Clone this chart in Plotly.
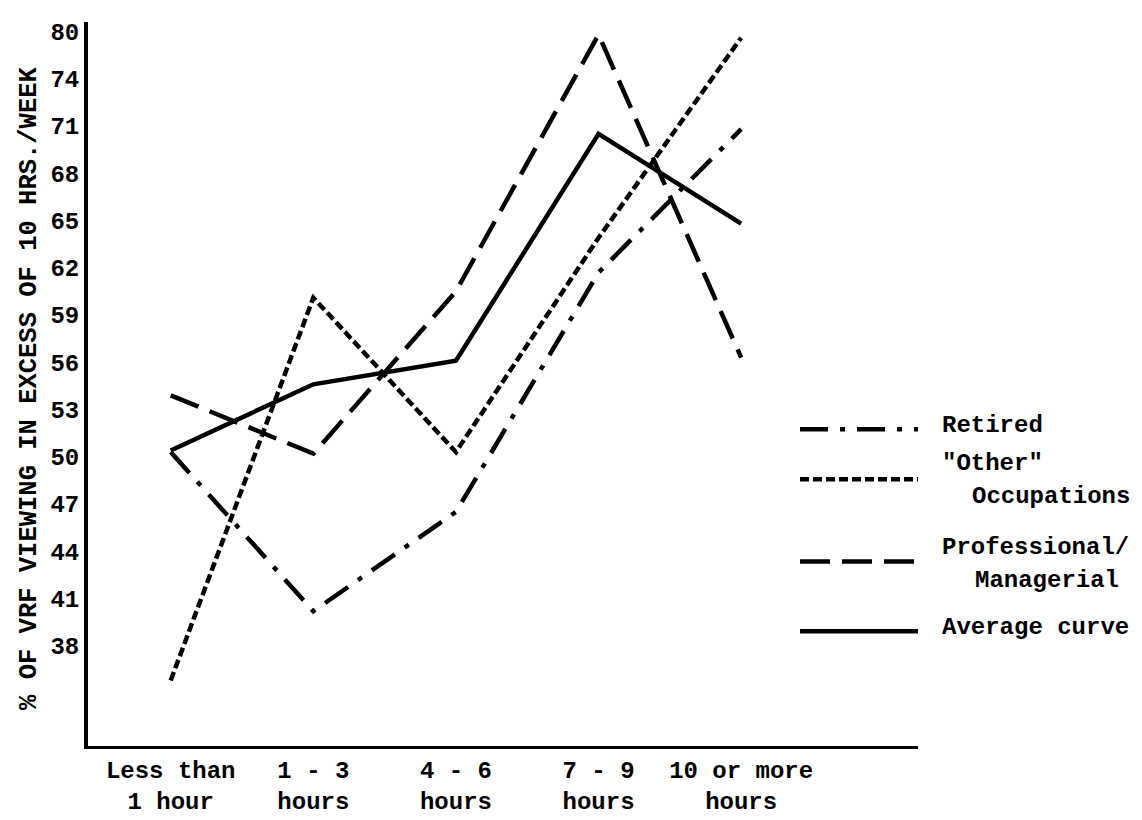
import plotly.graph_objects as go

categories = ["Less than<br>1 hour", "1 - 3<br>hours", "4 - 6<br>hours", "7 - 9<br>hours", "10 or more<br>hours"]

retired = [50.3, 40.2, 46.5, 61.7, 70.8]
other_occupations = [35.8, 60.1, 50.3, 63.9, 76.6]
professional = [53.9, 50.2, 60.5, 76.8, 56.3]
average = [50.4, 54.6, 56.1, 70.5, 64.8]

y_tick_vals = [38, 41, 44, 47, 50, 53, 56, 59, 62, 65, 68, 71, 74, 77]
y_tick_text = ["38", "41", "44", "47", "50", "53", "56", "59", "62", "65", "68", "71", "74", "80"]

series = [
    ("Retired", retired, "28px,12px,5px,12px"),
    ('"Other" Occupations', other_occupations, "9px,4px"),
    ("Professional/ Managerial", professional, "30px,12px"),
    ("Average curve", average, "solid"),
]

FONT = "Liberation Mono"
W, H = 1142, 820
L, R, T, B = 80, 232, 12, 70
pw, ph = W - L - R, H - T - B

fig = go.Figure()
for name, vals, dash in series:
    fig.add_trace(go.Scatter(
        x=categories, y=vals, mode="lines", name=name,
        line=dict(color="black", width=4.5, dash=dash),
        showlegend=False,
    ))

def px_x(x):
    return (x - L) / pw

def px_y(y):
    return (H - B - y) / ph

# legend drawn manually
legend_items = [
    (427, "28px,12px,5px,12px", [("Retired", 932, 423)]),
    (478, "9px,4px", [('"Other"', 932, 462), ("Occupations", 962, 496)]),
    (562, "30px,12px", [("Professional/", 932, 548), ("Managerial", 965, 581)]),
    (633, "solid", [("Average curve", 932, 629)]),
]
shapes = []
annotations = []
for ly, dash, texts in legend_items:
    shapes.append(dict(type="line", xref="paper", yref="paper",
                       x0=px_x(792), x1=px_x(910), y0=px_y(ly), y1=px_y(ly),
                       line=dict(color="black", width=4.5, dash=dash)))
    for t, tx, ty in texts:
        annotations.append(dict(text=t, xref="paper", yref="paper",
                                x=px_x(tx), y=px_y(ty), xanchor="left", yanchor="middle",
                                showarrow=False, font=dict(size=24, color="black")))

annotations.append(dict(text="% OF VRF VIEWING IN EXCESS OF 10 HRS./WEEK",
                        xref="paper", yref="paper", x=px_x(22), y=px_y(386),
                        xanchor="center", yanchor="middle", textangle=-90,
                        showarrow=False, font=dict(size=25.5, color="black")))

fig.update_layout(
    width=W, height=H,
    margin=dict(l=L, r=R, t=T, b=B),
    paper_bgcolor="white", plot_bgcolor="white",
    font=dict(family=FONT, size=24, color="black", weight="bold"),
    shapes=shapes, annotations=annotations,
    showlegend=False,
)
fig.update_xaxes(
    type="category", categoryorder="array", categoryarray=categories,
    range=[-0.58, 5.24], showline=True, linecolor="black", linewidth=3,
    showgrid=False, zeroline=False, ticks="", tickfont=dict(size=24),
)
fig.update_yaxes(
    range=[31.64, 77.6], tickvals=y_tick_vals, ticktext=y_tick_text,
    showline=True, linecolor="black", linewidth=4, showgrid=False,
    zeroline=False, ticks="", tickfont=dict(size=24),
)

fig.write_html("out.html")
